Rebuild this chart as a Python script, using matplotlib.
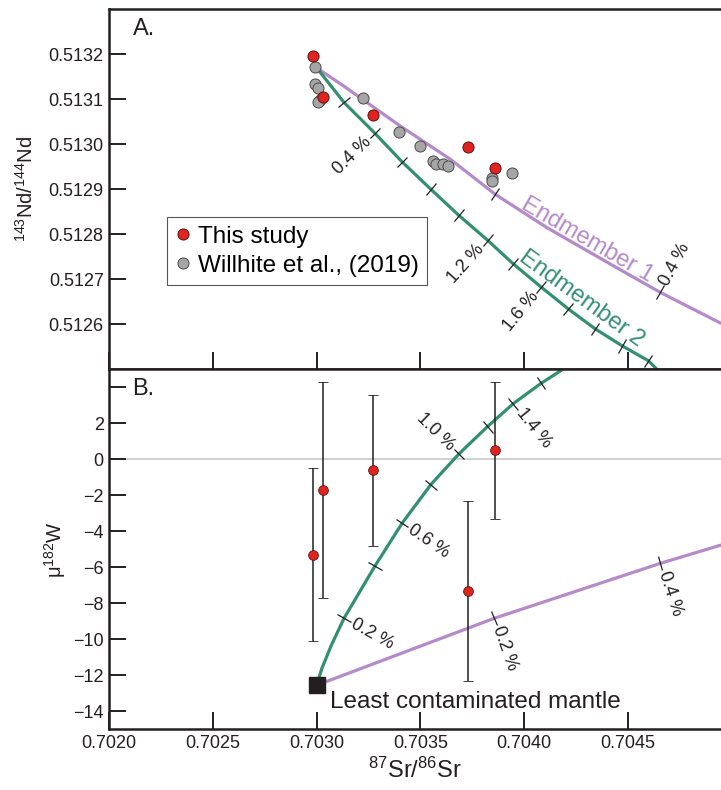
import matplotlib
matplotlib.use("Agg")
import matplotlib.pyplot as plt
from matplotlib.markers import MarkerStyle
from matplotlib.transforms import Affine2D
from matplotlib.ticker import FormatStrFormatter
import numpy as np

plt.rcParams["font.family"] = ["Liberation Sans", "DejaVu Sans"]
plt.rcParams["mathtext.fontset"] = "custom"
plt.rcParams["mathtext.rm"] = "Liberation Sans"
plt.rcParams["mathtext.it"] = "Liberation Sans:italic"

# ---- samples ----
this_sr = [0.70298, 0.70303, 0.70327, 0.70373, 0.70386]
this_nd = [0.513197, 0.513106, 0.513066, 0.512993, 0.512947]
this_mu = [-5.3, -1.7, -0.6, -7.3, 0.5]
this_mu_err = [4.8, 6.0, 4.2, 5.0, 3.8]

willhite_sr = [0.702993, 0.702993, 0.703008, 0.703016, 0.703008, 0.703225,
               0.703399, 0.703499, 0.703560, 0.703576, 0.703611, 0.703635,
               0.703845, 0.703845, 0.703944]
willhite_nd = [0.513172, 0.513134, 0.513126, 0.513099, 0.513093, 0.513103,
               0.513028, 0.512997, 0.512963, 0.512956, 0.512956, 0.512951,
               0.512926, 0.512919, 0.512936]

mantle_sr = 0.70300
mantle_mu = -12.55

# ---- mixing curves (pct = % contaminant at each vertex, None = no tick) ----
em1_nd_sr = [0.70300, 0.703129, 0.703402, 0.703644, 0.703861, 0.704110,
             0.704431, 0.704657, 0.704951]
em1_nd = [0.513170, 0.513130, 0.513041, 0.512967, 0.512889, 0.512815,
          0.512730, 0.512671, 0.512602]
em1_nd_pct = [0.0, None, None, None, 0.2, None, None, 0.4, None]

em2_nd_sr = [0.70300, 0.703132, 0.703280, 0.703412, 0.703551, 0.703686,
             0.703824, 0.703949, 0.704082, 0.704214, 0.704343, 0.704474,
             0.704600, 0.704641]
em2_nd = [0.513170, 0.513093, 0.513025, 0.512961, 0.512900, 0.512842,
          0.512787, 0.512734, 0.512683, 0.512634, 0.512590, 0.512552,
          0.512519, 0.512500]
em2_nd_pct = [0.0, 0.2, 0.4, 0.6, 0.8, 1.0, 1.2, 1.4, 1.6, 1.8, 2.0, 2.2,
              2.4, None]

em1_mu_sr = [0.70300, 0.703857, 0.704657, 0.704951]
em1_mu = [-12.55, -8.83, -5.78, -4.76]
em1_mu_pct = [0.0, 0.2, 0.4, None]

em2_mu_sr = [0.70300, 0.703025, 0.703070, 0.703132, 0.703280, 0.703412,
             0.703551, 0.703686, 0.703824, 0.703949, 0.704082, 0.704182]
em2_mu = [-12.55, -11.62, -10.35, -8.83, -5.95, -3.55, -1.40, 0.30, 1.82,
          3.10, 4.22, 4.96]
em2_mu_pct = [0.0, None, None, 0.2, 0.4, 0.6, 0.8, 1.0, 1.2, 1.4, 1.6, None]

sr_ticks = [0.7020, 0.7025, 0.7030, 0.7035, 0.7040, 0.7045]
nd_ticks = [0.5126, 0.5127, 0.5128, 0.5129, 0.5130, 0.5131, 0.5132]
mu_ticks = [-14, -12, -10, -8, -6, -4, -2, 0, 2, 4]

PURPLE = "#B48AC8"
GREEN = "#33906F"
RED = "#E1241F"
GRAY = "#A6A6A6"
INK = "#231F20"


def draw_mixing(ax, sr, y, pct, color, labels):
    """Mixing line with short perpendicular ticks every 0.2 %."""
    ax.plot(sr, y, color=color, lw=2.3, zorder=2, solid_capstyle="butt",
            solid_joinstyle="round")
    pts = ax.transData.transform(np.column_stack([sr, y]))
    for i, p in enumerate(pct):
        if not p:
            continue
        d = pts[i + 1] - pts[i - 1]
        theta = np.degrees(np.arctan2(d[1], d[0]))
        mk = MarkerStyle("|", transform=Affine2D().rotate_deg(theta))
        ax.plot(sr[i], y[i], marker=mk, ms=11, mew=0.9, color=INK, zorder=3)
        if p not in labels:
            continue
        ang = np.radians(theta + 90)
        nx, ny = labels[p] * np.cos(ang), labels[p] * np.sin(ang)
        rot = np.degrees(np.arctan2(ny, nx))
        ha = "left"
        if nx < 0:
            rot = rot - 180 if rot > 0 else rot + 180
            ha = "right"
        off = 6.5
        ax.annotate(f"{p:.1f} %", (sr[i], y[i]), xytext=(nx * off, ny * off),
                    textcoords="offset points", rotation=rot,
                    rotation_mode="anchor", ha=ha, va="center",
                    fontsize=13, color=INK, zorder=3)


fig = plt.figure(figsize=(7.21, 7.90), dpi=100)
ax1 = fig.add_axes([0.1516, 0.5325, 0.8484, 0.4557])
ax2 = fig.add_axes([0.1516, 0.0768, 0.8484, 0.4557])

for ax in (ax1, ax2):
    ax.set_xlim(0.7020, 0.70495)
    ax.set_xticks(sr_ticks)
    ax.xaxis.set_major_formatter(FormatStrFormatter("%.4f"))
    ax.spines["right"].set_visible(False)
    for s in ("left", "top", "bottom"):
        ax.spines[s].set_linewidth(1.8)
        ax.spines[s].set_color(INK)
    ax.tick_params(direction="in", length=12, width=1.4, color=INK,
                   labelsize=13, pad=4, labelcolor=INK)

# ---- A. Nd-Sr ----
ax1.set_ylim(0.51250, 0.51330)
ax1.set_yticks(nd_ticks)
ax1.yaxis.set_major_formatter(FormatStrFormatter("%.4f"))
ax1.tick_params(labelbottom=False)

draw_mixing(ax1, em1_nd_sr, em1_nd, em1_nd_pct, PURPLE, {0.4: 1})
draw_mixing(ax1, em2_nd_sr, em2_nd, em2_nd_pct, GREEN,
            {0.4: -1, 1.2: -1, 1.6: -1})

h_will, = ax1.plot(willhite_sr, willhite_nd, "o", ls="none", ms=8, mfc=GRAY,
                   mec="#4a4a4a", mew=0.7, zorder=4,
                   label="Willhite et al., (2019)")
h_this, = ax1.plot(this_sr, this_nd, "o", ls="none", ms=8, mfc=RED,
                   mec="#5a1410", mew=0.7, zorder=5, label="This study")

ax1.text(0.704290, 0.512775, "Endmember 1", color=PURPLE, fontsize=17,
         rotation=-30, rotation_mode="anchor", ha="center", va="baseline")
ax1.text(0.704260, 0.512645, "Endmember 2", color=GREEN, fontsize=17,
         rotation=-36, rotation_mode="anchor", ha="center", va="baseline")

leg = ax1.legend(handles=[h_this, h_will], loc="upper left",
                 bbox_to_anchor=(0.0948, 0.423), borderaxespad=0,
                 fancybox=False, edgecolor="#555555", framealpha=1,
                 fontsize=17.5, handlelength=0.6, handletextpad=0.3,
                 borderpad=0.35, labelspacing=0.3)
leg.get_frame().set_linewidth(0.8)

ax1.text(0.038, 0.975, "A.", transform=ax1.transAxes, fontsize=17,
         va="top", ha="left", color=INK)
ax1.set_ylabel(r"$^{143}$Nd/$^{144}$Nd", fontsize=14.5, color=INK)
ax1.yaxis.set_label_coords(-0.118, 0.5)

# ---- B. mu182W-Sr ----
ax2.set_ylim(-15, 5)
ax2.set_yticks(mu_ticks)
ax2.set_yticklabels([str(t).replace("-", "\u2212") if t < 4 else ""
                     for t in mu_ticks])
ax2.axhline(0, color="#C8C8C8", lw=1.2, zorder=1)

draw_mixing(ax2, em2_mu_sr, em2_mu, em2_mu_pct, GREEN,
            {0.2: -1, 0.6: -1, 1.0: 1, 1.4: -1})
draw_mixing(ax2, em1_mu_sr, em1_mu, em1_mu_pct, PURPLE, {0.2: -1, 0.4: -1})

ax2.errorbar(this_sr, this_mu, yerr=this_mu_err, fmt="o", ms=7, mfc=RED,
             mec="#5a1410", mew=0.6, ecolor=INK, elinewidth=1.1,
             capsize=3.8, capthick=1.1, zorder=5)
ax2.plot(mantle_sr, mantle_mu, "s", ms=11, color=INK, zorder=6)
ax2.text(0.703065, -13.82, "Least contaminated mantle", fontsize=17.5,
         ha="left", va="baseline", color=INK)

ax2.text(0.038, 0.975, "B.", transform=ax2.transAxes, fontsize=17,
         va="top", ha="left", color=INK)
ax2.set_ylabel("\u03bc$^{182}$W", fontsize=14.5, color=INK)
ax2.yaxis.set_label_coords(-0.068, 0.5)
ax2.set_xlabel(r"$^{87}$Sr/$^{86}$Sr", fontsize=17, labelpad=4, color=INK)

fig.savefig("out.png", dpi=100)
